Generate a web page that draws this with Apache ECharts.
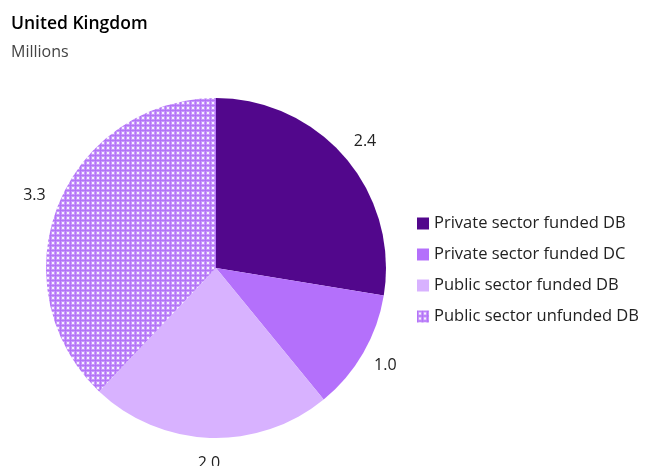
<!DOCTYPE html>
<html>
<head>
<meta charset="utf-8">
<script src="https://cdn.jsdelivr.net/npm/echarts@6/dist/echarts.min.js"></script>
<style>
  html, body { margin: 0; padding: 0; background: #fff; }
  #chart { width: 664px; height: 466px; }
</style>
</head>
<body>
<div id="chart"></div>
<script>
// Pension scheme membership, United Kingdom (millions)
const categories = [
  'Private sector funded DB',
  'Private sector funded DC',
  'Public sector funded DB',
  'Public sector unfunded DB'
];
const values = [2.4, 1.0, 2.0, 3.3];
const colors = ['#52078c', '#b470fb', '#d8b2ff', null];

// Dotted fill for the unfunded slice
function dotPattern() {
  const c = document.createElement('canvas');
  c.width = 5; c.height = 5;
  const g = c.getContext('2d');
  g.fillStyle = '#b474f8';
  g.fillRect(0, 0, 5, 5);
  g.fillStyle = 'rgba(255,255,255,0.25)';
  g.fillRect(1, 1, 4, 4);
  g.fillStyle = 'rgba(255,255,255,0.85)';
  g.fillRect(2, 2, 2, 2);
  return { image: c, repeat: 'repeat' };
}
const pattern = dotPattern();

const font = '"Open Sans", "Noto Sans", sans-serif';
const center = [216, 268];

const pieData = categories.map((name, i) => ({
  name,
  value: values[i],
  itemStyle: { color: colors[i] || pattern }
}));

const labelData = categories.map((name, i) => ({
  name,
  value: values[i],
  itemStyle: { color: 'rgba(0,0,0,0)' }
}));

const chart = echarts.init(document.getElementById('chart'), null, { renderer: 'canvas' });
chart.setOption({
  animation: false,
  backgroundColor: '#fff',
  title: {
    text: 'United Kingdom',
    subtext: 'Millions',
    left: 11,
    top: 15,
    padding: 0,
    itemGap: 11,
    textStyle: { fontFamily: font, fontSize: 17.5, fontWeight: 600, color: '#000' },
    subtextStyle: { fontFamily: font, fontSize: 16, color: '#444' }
  },
  legend: {
    orient: 'vertical',
    left: 412,
    top: 210,
    itemWidth: 12,
    itemHeight: 12,
    itemGap: 14,
    icon: 'rect',
    data: categories,
    textStyle: { fontFamily: font, fontSize: 16.5, color: '#222' }
  },
  series: [
    {
      type: 'pie',
      center: center,
      radius: [0, 170],
      startAngle: 90,
      clockwise: true,
      label: { show: false },
      labelLine: { show: false },
      itemStyle: { borderWidth: 0 },
      emphasis: { disabled: true },
      data: pieData
    },
    {
      // transparent ring that carries the value labels
      type: 'pie',
      center: center,
      radius: [170, 215],
      startAngle: 90,
      clockwise: true,
      silent: true,
      legendHoverLink: false,
      emphasis: { disabled: true },
      label: {
        show: true,
        position: 'inside',
        fontFamily: font,
        fontSize: 16,
        color: '#222',
        formatter: p => p.value.toFixed(1)
      },
      labelLine: { show: false },
      data: labelData
    }
  ]
});
</script>
</body>
</html>
